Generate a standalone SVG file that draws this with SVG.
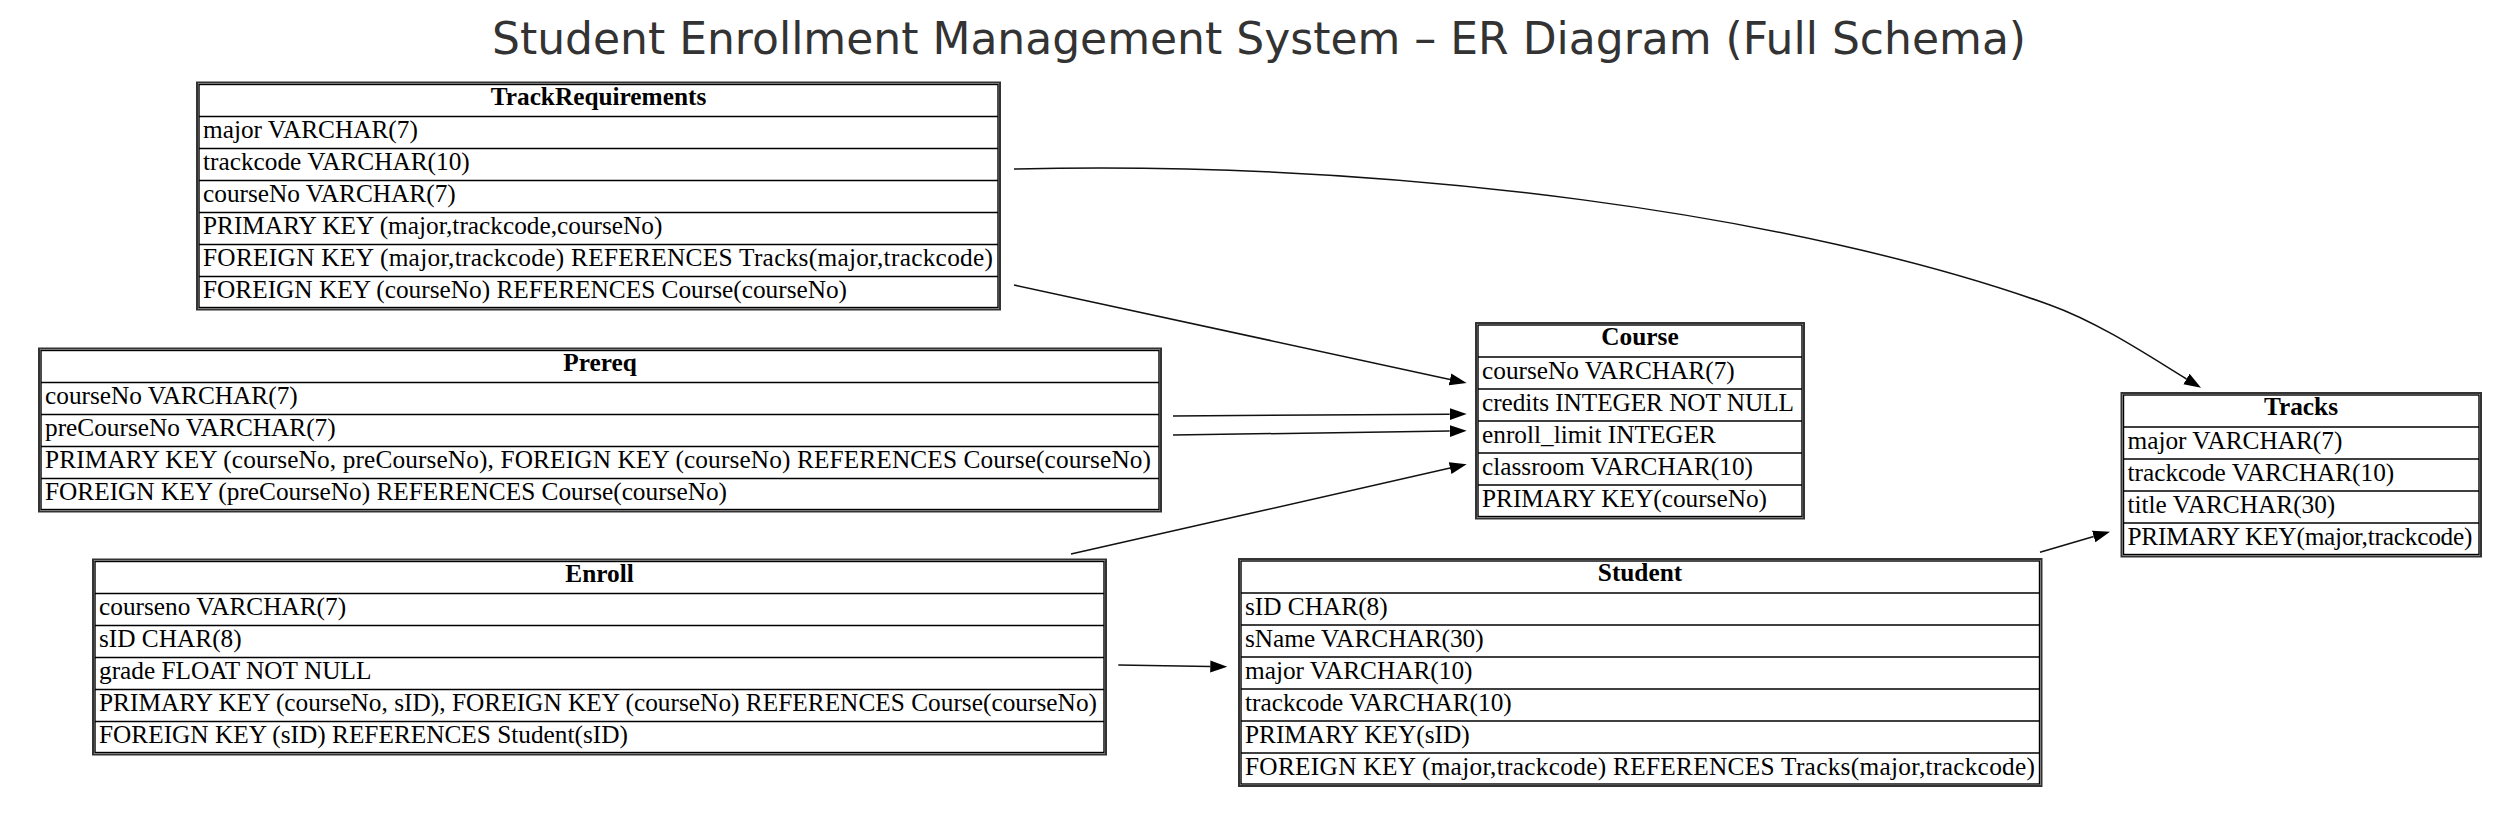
<svg xmlns="http://www.w3.org/2000/svg" width="2520" height="818" viewBox="0 0 2520 818">
<style>
.title{font-family:"DejaVu Sans",sans-serif;font-size:44px;fill:#333;}
.hd{font-family:"Liberation Serif","Times New Roman",serif;font-size:25.3px;font-weight:bold;fill:#000;}
.tx{font-family:"Liberation Serif","Times New Roman",serif;font-size:25.3px;fill:#000;}
.outer{fill:#fff;stroke:#333;stroke-width:2;}
.cell{fill:none;stroke:#000;stroke-width:1.4;}
.sep{stroke:#000;stroke-width:1.4;}
.edge{fill:none;stroke:#111;stroke-width:1.5;}
</style>
<defs>
<marker id="ah" markerUnits="userSpaceOnUse" markerWidth="18" markerHeight="14" viewBox="0 -7 18 14" refX="0" refY="0" orient="auto"><path d="M0,-6L17,0L0,6z" fill="#000"/></marker>
</defs>
<rect width="2520" height="818" fill="#fff"/>
<text class="title" x="1259" y="54" text-anchor="middle">Student Enrollment Management System – ER Diagram (Full Schema)</text>

<g id="edges">
<path class="edge" marker-end="url(#ah)" d="M1014,169 C1400,160 1800,215 2050,305 C2100,323 2152,358 2186.5,379"/>
<path class="edge" marker-end="url(#ah)" d="M1014,285 L1450,379.4"/>
<path class="edge" marker-end="url(#ah)" d="M1173,416 C1300,415.5 1400,414.5 1449.7,414.2"/>
<path class="edge" marker-end="url(#ah)" d="M1173,435 L1449.7,431.1"/>
<path class="edge" marker-end="url(#ah)" d="M1071,554 L1450.1,468.1"/>
<path class="edge" marker-end="url(#ah)" d="M1118.3,665 L1210.3,666.5"/>
<path class="edge" marker-end="url(#ah)" d="M2040,552.3 L2093.7,536.5"/>
</g>

<g id="TrackRequirements">
<rect class="outer" x="197" y="82.5" width="803" height="227"/>
<rect class="cell" x="199" y="84.5" width="799" height="223"/>
<line class="sep" x1="199" y1="116.5" x2="998" y2="116.5"/>
<line class="sep" x1="199" y1="148.5" x2="998" y2="148.5"/>
<line class="sep" x1="199" y1="180.5" x2="998" y2="180.5"/>
<line class="sep" x1="199" y1="212.5" x2="998" y2="212.5"/>
<line class="sep" x1="199" y1="244.5" x2="998" y2="244.5"/>
<line class="sep" x1="199" y1="276.5" x2="998" y2="276.5"/>
<text class="hd" x="598.5" y="104.5" text-anchor="middle">TrackRequirements</text>
<text class="tx" x="203" y="138">major VARCHAR(7)</text>
<text class="tx" x="203" y="170">trackcode VARCHAR(10)</text>
<text class="tx" x="203" y="202">courseNo VARCHAR(7)</text>
<text class="tx" x="203" y="234">PRIMARY KEY (major,trackcode,courseNo)</text>
<text class="tx" x="203" y="266" textLength="790" lengthAdjust="spacing">FOREIGN KEY (major,trackcode) REFERENCES Tracks(major,trackcode)</text>
<text class="tx" x="203" y="298">FOREIGN KEY (courseNo) REFERENCES Course(courseNo)</text>
</g>

<g id="Prereq">
<rect class="outer" x="39" y="348.5" width="1122" height="163"/>
<rect class="cell" x="41" y="350.5" width="1118" height="159"/>
<line class="sep" x1="41" y1="382.5" x2="1159" y2="382.5"/>
<line class="sep" x1="41" y1="414.5" x2="1159" y2="414.5"/>
<line class="sep" x1="41" y1="446.5" x2="1159" y2="446.5"/>
<line class="sep" x1="41" y1="478.5" x2="1159" y2="478.5"/>
<text class="hd" x="600" y="370.5" text-anchor="middle">Prereq</text>
<text class="tx" x="45" y="404">courseNo VARCHAR(7)</text>
<text class="tx" x="45" y="436">preCourseNo VARCHAR(7)</text>
<text class="tx" x="45" y="468" textLength="1106" lengthAdjust="spacing">PRIMARY KEY (courseNo, preCourseNo), FOREIGN KEY (courseNo) REFERENCES Course(courseNo)</text>
<text class="tx" x="45" y="500">FOREIGN KEY (preCourseNo) REFERENCES Course(courseNo)</text>
</g>

<g id="Enroll">
<rect class="outer" x="93" y="559.5" width="1013" height="195"/>
<rect class="cell" x="95" y="561.5" width="1009" height="191"/>
<line class="sep" x1="95" y1="593.5" x2="1104" y2="593.5"/>
<line class="sep" x1="95" y1="625.5" x2="1104" y2="625.5"/>
<line class="sep" x1="95" y1="657.5" x2="1104" y2="657.5"/>
<line class="sep" x1="95" y1="689.5" x2="1104" y2="689.5"/>
<line class="sep" x1="95" y1="721.5" x2="1104" y2="721.5"/>
<text class="hd" x="599.5" y="581.5" text-anchor="middle">Enroll</text>
<text class="tx" x="99" y="615">courseno VARCHAR(7)</text>
<text class="tx" x="99" y="647">sID CHAR(8)</text>
<text class="tx" x="99" y="679">grade FLOAT NOT NULL</text>
<text class="tx" x="99" y="711" textLength="998" lengthAdjust="spacing">PRIMARY KEY (courseNo, sID), FOREIGN KEY (courseNo) REFERENCES Course(courseNo)</text>
<text class="tx" x="99" y="743">FOREIGN KEY (sID) REFERENCES Student(sID)</text>
</g>

<g id="Course">
<rect class="outer" x="1476" y="323" width="328" height="195.5"/>
<rect class="cell" x="1478" y="325" width="324" height="191.5"/>
<line class="sep" x1="1478" y1="357" x2="1802" y2="357"/>
<line class="sep" x1="1478" y1="389" x2="1802" y2="389"/>
<line class="sep" x1="1478" y1="421" x2="1802" y2="421"/>
<line class="sep" x1="1478" y1="453" x2="1802" y2="453"/>
<line class="sep" x1="1478" y1="485" x2="1802" y2="485"/>
<text class="hd" x="1640" y="345" text-anchor="middle">Course</text>
<text class="tx" x="1482" y="378.5">courseNo VARCHAR(7)</text>
<text class="tx" x="1482" y="410.5" textLength="312" lengthAdjust="spacing">credits INTEGER NOT NULL</text>
<text class="tx" x="1482" y="442.5">enroll_limit INTEGER</text>
<text class="tx" x="1482" y="474.5">classroom VARCHAR(10)</text>
<text class="tx" x="1482" y="506.5">PRIMARY KEY(courseNo)</text>
</g>

<g id="Student">
<rect class="outer" x="1239" y="559" width="802.5" height="227"/>
<rect class="cell" x="1241" y="561" width="798.5" height="223"/>
<line class="sep" x1="1241" y1="593" x2="2039.5" y2="593"/>
<line class="sep" x1="1241" y1="625" x2="2039.5" y2="625"/>
<line class="sep" x1="1241" y1="657" x2="2039.5" y2="657"/>
<line class="sep" x1="1241" y1="689" x2="2039.5" y2="689"/>
<line class="sep" x1="1241" y1="721" x2="2039.5" y2="721"/>
<line class="sep" x1="1241" y1="753" x2="2039.5" y2="753"/>
<text class="hd" x="1640" y="581" text-anchor="middle">Student</text>
<text class="tx" x="1245" y="614.5">sID CHAR(8)</text>
<text class="tx" x="1245" y="646.5">sName VARCHAR(30)</text>
<text class="tx" x="1245" y="678.5">major VARCHAR(10)</text>
<text class="tx" x="1245" y="710.5">trackcode VARCHAR(10)</text>
<text class="tx" x="1245" y="742.5">PRIMARY KEY(sID)</text>
<text class="tx" x="1245" y="774.5" textLength="790" lengthAdjust="spacing">FOREIGN KEY (major,trackcode) REFERENCES Tracks(major,trackcode)</text>
</g>

<g id="Tracks">
<rect class="outer" x="2121.5" y="393" width="359.5" height="163.5"/>
<rect class="cell" x="2123.5" y="395" width="355.5" height="159.5"/>
<line class="sep" x1="2123.5" y1="427" x2="2479" y2="427"/>
<line class="sep" x1="2123.5" y1="459" x2="2479" y2="459"/>
<line class="sep" x1="2123.5" y1="491" x2="2479" y2="491"/>
<line class="sep" x1="2123.5" y1="523" x2="2479" y2="523"/>
<text class="hd" x="2301" y="415" text-anchor="middle">Tracks</text>
<text class="tx" x="2127.5" y="448.5">major VARCHAR(7)</text>
<text class="tx" x="2127.5" y="480.5">trackcode VARCHAR(10)</text>
<text class="tx" x="2127.5" y="512.5">title VARCHAR(30)</text>
<text class="tx" x="2127.5" y="544.5" textLength="345" lengthAdjust="spacing">PRIMARY KEY(major,trackcode)</text>
</g>
</svg>
